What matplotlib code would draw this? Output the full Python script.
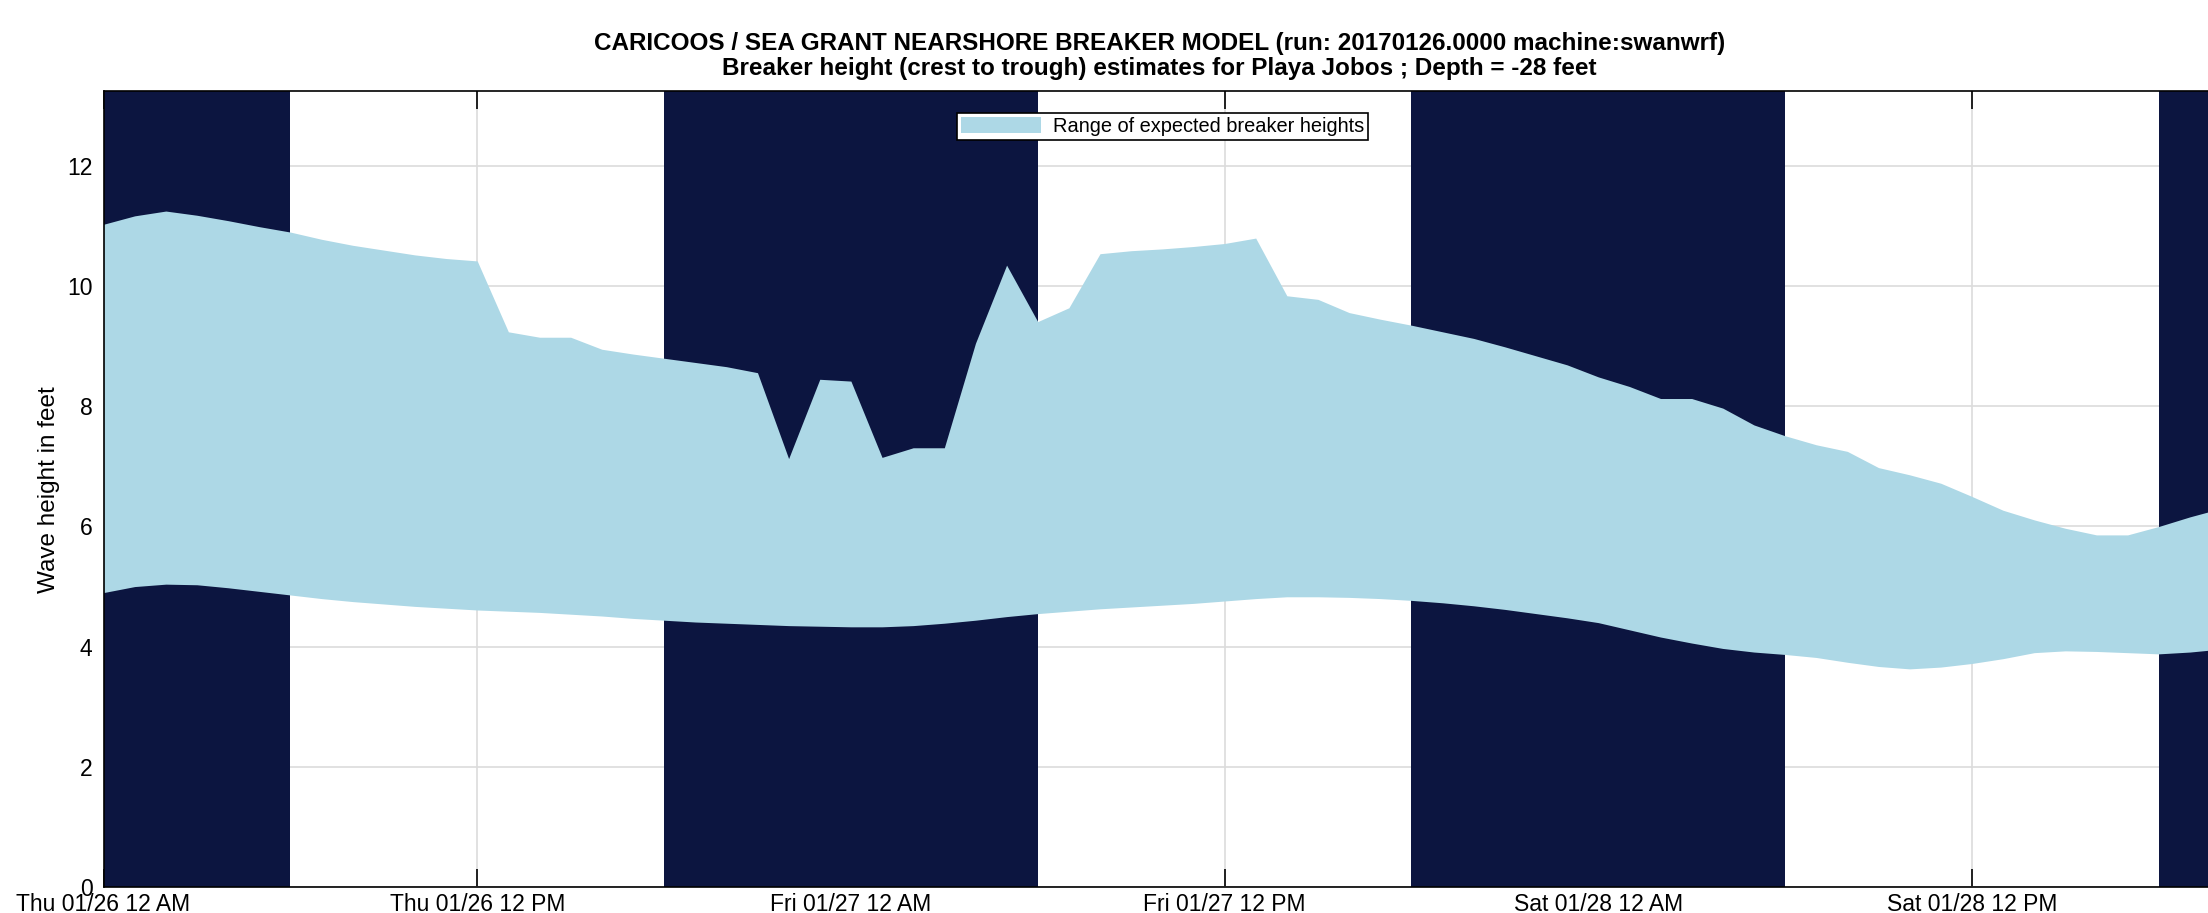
import numpy as np
import pandas as pd
import matplotlib.pyplot as plt
import matplotlib.dates as mdates

plt.rcParams['font.family'] = ['Liberation Sans', 'DejaVu Sans']

# hourly model output, starting Thu 01/26 00:00
start = pd.Timestamp('2017-01-26 00:00')
times = pd.date_range(start, periods=69, freq='h')

upper_ft = [11.03, 11.17, 11.25, 11.18, 11.09, 10.99, 10.90, 10.78, 10.68, 10.60,
            10.52, 10.46, 10.42, 9.24, 9.15, 9.15, 8.95, 8.87, 8.80, 8.73,
            8.66, 8.56, 7.13, 8.45, 8.42, 7.15, 7.31, 7.31, 9.05, 10.35,
            9.41, 9.64, 10.54, 10.59, 10.62, 10.66, 10.71, 10.80, 9.84, 9.78,
            9.56, 9.45, 9.35, 9.24, 9.13, 8.99, 8.84, 8.69, 8.49, 8.33,
            8.13, 8.13, 7.97, 7.69, 7.51, 7.36, 7.25, 6.98, 6.86, 6.72,
            6.50, 6.27, 6.11, 5.97, 5.86, 5.86, 6.00, 6.16, 6.30]

lower_ft = [4.90, 5.00, 5.04, 5.03, 4.98, 4.92, 4.86, 4.80, 4.75, 4.71,
            4.67, 4.64, 4.61, 4.59, 4.57, 4.54, 4.51, 4.47, 4.44, 4.41,
            4.39, 4.37, 4.35, 4.34, 4.33, 4.33, 4.35, 4.39, 4.44, 4.50,
            4.55, 4.59, 4.63, 4.66, 4.69, 4.72, 4.76, 4.80, 4.83, 4.83,
            4.82, 4.80, 4.77, 4.73, 4.68, 4.62, 4.55, 4.48, 4.40, 4.28,
            4.16, 4.06, 3.97, 3.91, 3.87, 3.82, 3.74, 3.67, 3.63, 3.66,
            3.72, 3.80, 3.90, 3.93, 3.92, 3.90, 3.88, 3.91, 3.96]

# night periods (18:00 -> 06:00)
night_start = ['2017-01-25 18:00', '2017-01-26 18:00', '2017-01-27 18:00', '2017-01-28 18:00']
night_end = ['2017-01-26 06:00', '2017-01-27 06:00', '2017-01-28 06:00', '2017-01-29 06:00']

fig = plt.figure(figsize=(22.08, 9.13), dpi=100)
ax = fig.add_axes([0.0469, 0.0285, 0.959, 0.8713])

for s, e in zip(night_start, night_end):
    ax.axvspan(pd.Timestamp(s), pd.Timestamp(e), color='#0c1540', lw=0, zorder=1)

ax.fill_between(times, lower_ft, upper_ft, color='#add8e6', lw=0, zorder=2,
                label='Range of expected breaker heights')

ax.set_xlim(times[0], times[-1])
ax.set_ylim(0, 13.24)
ax.set_yticks([0, 2, 4, 6, 8, 10, 12])
ax.set_xticks(pd.date_range(start, periods=6, freq='12h'))
ax.xaxis.set_major_formatter(mdates.DateFormatter('%a %m/%d %I %p'))

ax.grid(True, color='#dcdcdc', lw=1.2, zorder=0)
ax.set_axisbelow(True)
ax.tick_params(direction='in', length=13, width=1.2, top=True, right=False,
               labelsize=16.5, pad=4)
ax.tick_params(axis='y', length=0, pad=8)
for sp in ax.spines.values():
    sp.set_linewidth(1.2)
    sp.set_zorder(5)
ax.spines['right'].set_visible(False)

ax.set_ylabel('Wave height in feet', fontsize=17.5, labelpad=5)

fig.text(0.525, 1 - 43.6 / 913, 'CARICOOS / SEA GRANT NEARSHORE BREAKER MODEL (run: 20170126.0000 machine:swanwrf)',
         ha='center', va='center', fontsize=17.5, fontweight='bold')
fig.text(0.525, 1 - 69.0 / 913, 'Breaker height (crest to trough) estimates for Playa Jobos ; Depth = -28 feet',
         ha='center', va='center', fontsize=17.5, fontweight='bold')

leg = ax.legend(loc='upper center', bbox_to_anchor=(0.5, 0.9735), fontsize=14.4,
                frameon=True, fancybox=False, edgecolor='black', framealpha=1,
                handlelength=4.0, handleheight=0.9, borderpad=0.2, handletextpad=0.6,
                borderaxespad=0)
leg.get_frame().set_linewidth(1.2)
leg.set_zorder(6)

fig.savefig('out.png', dpi=100)
